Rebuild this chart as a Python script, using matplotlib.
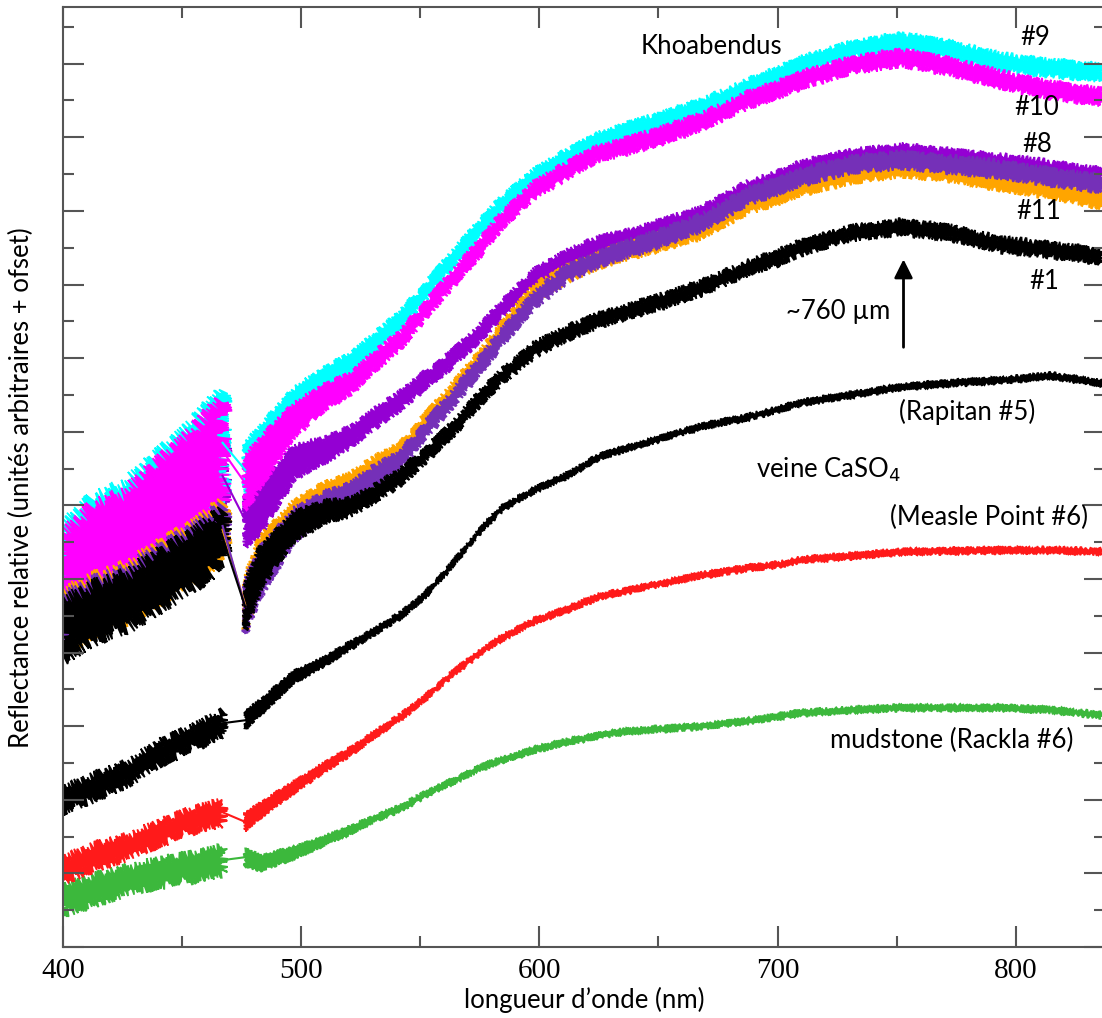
import matplotlib.pyplot as plt
import numpy as np

plt.rcParams['font.family'] = ['Lato', 'DejaVu Sans']

# longueurs d'onde (nm) : avant le trou du spectro, puis après
lo_1 = [400, 413, 427, 441, 455, 467]
lo_2 = [476.5, 483, 497, 510, 521, 530, 542, 552, 563, 575, 584, 598, 612,
        625, 634, 650, 668, 688, 700, 710, 731, 752, 773, 794, 815, 836]

# Khoabendus (#9, #10, #8, #11, #1) + la 2e courbe violette
k9_1 = [5.08, 5.46, 5.68, 6.07, 6.45, 6.85]
k9_2 = [6.48, 6.75, 7.37, 7.70, 7.93, 8.18, 8.52, 8.90, 9.33, 9.76, 10.08, 10.46, 10.73,
        10.96, 11.06, 11.21, 11.40, 11.68, 11.83, 11.98, 12.19, 12.30, 12.19, 12.02, 11.94, 11.88]
k10_1 = [4.97, 5.35, 5.57, 5.96, 6.35, 6.74]
k10_2 = [6.30, 6.59, 7.16, 7.47, 7.66, 7.93, 8.25, 8.65, 9.06, 9.50, 9.86, 10.29, 10.56,
         10.79, 10.86, 11.01, 11.21, 11.51, 11.64, 11.78, 11.98, 12.08, 11.96, 11.78, 11.64, 11.55]
k8_1 = [4.63, 5.01, 5.23, 5.62, 6.01, 6.40]
k8_2 = [5.80, 5.94, 6.59, 6.75, 6.93, 7.16, 7.43, 7.70, 7.98, 8.34, 8.65, 9.10, 9.36,
        9.54, 9.61, 9.76, 9.94, 10.30, 10.42, 10.56, 10.72, 10.79, 10.72, 10.65, 10.56, 10.46]
kv_1 = [4.47, 4.70, 4.87, 5.15, 5.42, 5.72]
kv_2 = [4.62, 5.10, 5.73, 6.01, 6.17, 6.39, 6.62, 7.02, 7.43, 7.90, 8.27, 8.79, 9.16,
        9.35, 9.45, 9.62, 9.84, 10.20, 10.33, 10.46, 10.63, 10.69, 10.63, 10.56, 10.46, 10.37]
k11_1 = [4.42, 4.65, 4.82, 5.10, 5.37, 5.67]
k11_2 = [4.65, 5.26, 5.83, 6.14, 6.30, 6.51, 6.73, 7.13, 7.53, 7.98, 8.36, 8.89, 9.16,
         9.33, 9.43, 9.57, 9.74, 10.08, 10.20, 10.33, 10.49, 10.58, 10.52, 10.39, 10.29, 10.15]
k1_1 = [4.31, 4.54, 4.71, 4.99, 5.26, 5.56]
k1_2 = [4.62, 5.16, 5.72, 5.91, 5.98, 6.14, 6.39, 6.68, 7.02, 7.45, 7.74, 8.12, 8.34,
        8.52, 8.61, 8.76, 8.95, 9.23, 9.36, 9.50, 9.70, 9.78, 9.70, 9.54, 9.47, 9.38]

# Rapitan #5, Measle Point #6, Rackla #6
rap_1 = [2.00, 2.17, 2.36, 2.64, 2.85, 3.04]
rap_2 = [3.08, 3.26, 3.67, 3.88, 4.10, 4.27, 4.51, 4.78, 5.18, 5.65, 5.95, 6.21, 6.41,
         6.66, 6.75, 6.90, 7.07, 7.20, 7.30, 7.39, 7.50, 7.61, 7.66, 7.70, 7.76, 7.66]
mea_1 = [1.05, 1.22, 1.36, 1.55, 1.73, 1.83]
mea_2 = [1.70, 1.86, 2.17, 2.45, 2.66, 2.87, 3.13, 3.38, 3.70, 4.00, 4.19, 4.43, 4.59,
         4.76, 4.82, 4.93, 5.05, 5.15, 5.19, 5.26, 5.31, 5.37, 5.38, 5.39, 5.39, 5.37]
rac_1 = [0.64, 0.77, 0.91, 1.01, 1.09, 1.18]
rac_2 = [1.22, 1.14, 1.28, 1.45, 1.59, 1.73, 1.89, 2.07, 2.24, 2.43, 2.54, 2.68, 2.79,
         2.87, 2.92, 2.96, 3.00, 3.07, 3.13, 3.18, 3.22, 3.25, 3.25, 3.25, 3.22, 3.15]

# demi-largeur de la bande de bruit
bruit_haut_1 = [0.60, 0.62, 0.60, 0.62, 0.64, 0.68]
bruit_bas_k_1 = [0.36, 0.34, 0.34, 0.34, 0.34, 0.32]
bruit_k_2 = [0.36, 0.32, 0.22, 0.16, 0.13, 0.12, 0.11, 0.10, 0.10, 0.10, 0.10, 0.10, 0.10,
             0.10, 0.10, 0.10, 0.10, 0.10, 0.10, 0.10, 0.10, 0.10, 0.10, 0.10, 0.10, 0.10]
bruit_b_1 = [0.15, 0.15, 0.14, 0.14, 0.14, 0.14]
bruit_b_2 = [0.12, 0.10, 0.08, 0.06, 0.05, 0.04, 0.04, 0.035, 0.035, 0.035, 0.035, 0.035, 0.035,
             0.035, 0.035, 0.035, 0.035, 0.035, 0.035, 0.035, 0.035, 0.035, 0.035, 0.035, 0.035, 0.035]

fig = plt.figure(figsize=(11.02, 10.18), dpi=100)
ax = fig.add_axes([63/1102, 1-947/1018, 1042/1102, 940/1018])


def bande(x, y, b, couleur, bruit):
    x, y, b = np.array(x), np.array(y), np.array(b)
    p = ax.fill(np.concatenate([x, x[::-1]]), np.concatenate([y+b, (y-b)[::-1]]),
                color=couleur, lw=1.2)[0]
    p.set_sketch_params(scale=bruit, length=1.5, randomness=3)


def spectre(y1, y2, b1, b2, couleur, bruit1=9, bruit2=3):
    bande(lo_1, y1, b1, couleur, bruit1)
    bande(lo_2, y2, b2, couleur, bruit2)
    ax.plot(lo_1[-1:]+lo_2[:1], [y1[-1], y2[0]], color=couleur, lw=1.5)


spectre(rac_1, rac_2, np.array(bruit_b_1)*1.2, bruit_b_2, '#3cb83c', 5, 1.5)
spectre(mea_1, mea_2, bruit_b_1, bruit_b_2, '#ff1a1a', 5, 1.5)
spectre(rap_1, rap_2, bruit_b_1, bruit_b_2, 'black', 5, 1.5)

spectre(k8_1, k8_2, np.array(bruit_haut_1)*0.7, bruit_k_2, '#9400d3')
spectre(k9_1, k9_2, bruit_haut_1, bruit_k_2, '#00ffff')
spectre(k10_1, k10_2, bruit_haut_1, bruit_k_2, '#ff00ff')
spectre(k11_1, k11_2, bruit_bas_k_1, bruit_k_2, '#ffa500')
spectre(kv_1, kv_2, np.array(bruit_bas_k_1)*0.7, bruit_k_2, '#7530b8')
spectre(k1_1, k1_2, bruit_bas_k_1, np.array(bruit_k_2)*0.85, 'black')

# ticks d'abord, limites ensuite (set_xticks élargit les limites)
ax.set_xticks(np.arange(400, 801, 100))
ax.set_xticks(np.arange(450, 801, 100), minor=True)
ax.set_yticks(np.arange(0, 13, 1))
ax.set_yticks(np.arange(0.5, 12.6, 1), minor=True)
ax.set_xlim(400, 837.5)
ax.set_ylim(0, 12.77)
ax.tick_params(which='both', direction='in', top=True, right=True, color='#555555', width=1.5)
ax.tick_params(which='major', length=15)
ax.tick_params(which='minor', length=8)
ax.tick_params(axis='y', labelleft=False)
ax.tick_params(axis='x', pad=8, labelsize=21)
for lab in ax.get_xticklabels():
    lab.set_family('Liberation Serif')
for s in ax.spines.values():
    s.set_color('#555555')
    s.set_linewidth(1.5)

fs = 18.5
ax.text(642.4, 12.23, 'Khoabendus', fontsize=fs, va='center')
ax.text(808.4, 12.35, '#9', fontsize=fs, ha='center', va='center')
ax.text(808.8, 11.40, '#10', fontsize=fs, ha='center', va='center')
ax.text(809.2, 10.90, '#8', fontsize=fs, ha='center', va='center')
ax.text(809.7, 9.99, '#11', fontsize=fs, ha='center', va='center')
ax.text(812.2, 9.04, '#1', fontsize=fs, ha='center', va='center')
ax.text(725.6, 8.63, '~760 µm', fontsize=fs, ha='center', va='center')
ax.annotate('', xy=(752.9, 9.38), xytext=(752.9, 8.11),
            arrowprops=dict(arrowstyle='-|>', color='black', lw=2, mutation_scale=28))
ax.text(779.8, 7.27, '(Rapitan #5)', fontsize=fs, ha='center', va='center')
ax.text(690.8, 6.48, 'veine CaSO$_4$', fontsize=fs, va='center')
ax.text(788.7, 5.83, '(Measle Point #6)', fontsize=fs, ha='center', va='center')
ax.text(773.1, 2.81, 'mudstone (Rackla #6)', fontsize=fs, ha='center', va='center')

fig.text(584/1102, 1-1000/1018, 'longueur d’onde (nm)', fontsize=fs, ha='center', va='center')
fig.text(21/1102, 1-488/1018, 'Reflectance relative (unités arbitraires + ofset)',
         fontsize=fs, ha='center', va='center', rotation=90)

fig.savefig('out.png', dpi=100)
